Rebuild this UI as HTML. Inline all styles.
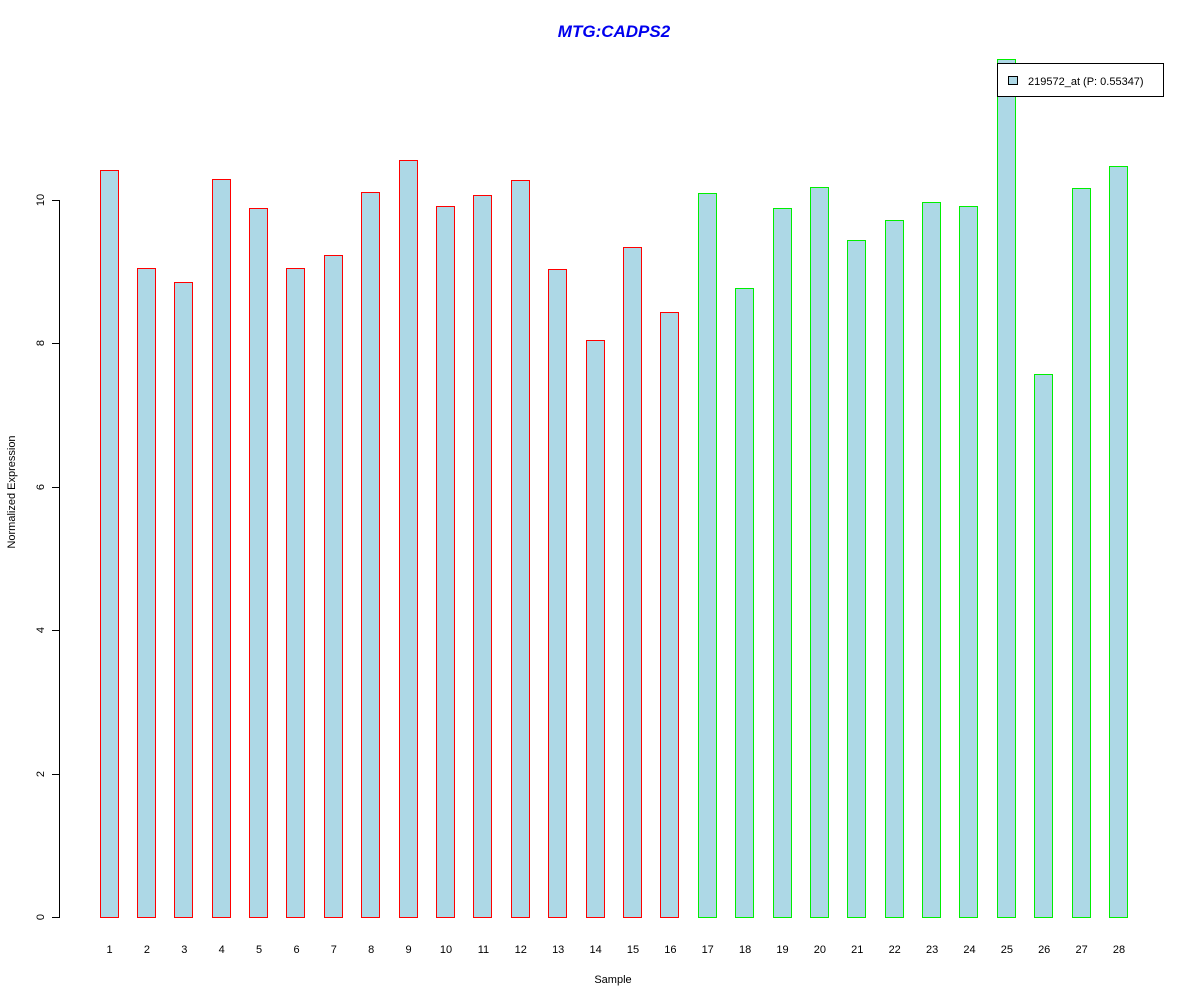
<!DOCTYPE html>
<html><head><meta charset="utf-8"><style>html,body{margin:0;padding:0;background:#fff}svg{display:block}</style></head><body>
<svg width="1200" height="1000" xmlns="http://www.w3.org/2000/svg" font-family="Liberation Sans, Arial, sans-serif">
<rect width="1200" height="1000" fill="#fff"/>
<text x="614" y="37" text-anchor="middle" font-size="17" font-weight="bold" font-style="italic" fill="#0000ee">MTG:CADPS2</text>
<g fill="#000" shape-rendering="crispEdges">
<rect x="59" y="200" width="1" height="718"/>
<rect x="52" y="917" width="8" height="1"/>
<rect x="52" y="774" width="8" height="1"/>
<rect x="52" y="630" width="8" height="1"/>
<rect x="52" y="487" width="8" height="1"/>
<rect x="52" y="343" width="8" height="1"/>
<rect x="52" y="200" width="8" height="1"/>
</g>
<g font-size="11" fill="#000" text-anchor="middle">
<text transform="translate(44,917) rotate(-90)">0</text>
<text transform="translate(44,774) rotate(-90)">2</text>
<text transform="translate(44,630) rotate(-90)">4</text>
<text transform="translate(44,487) rotate(-90)">6</text>
<text transform="translate(44,343) rotate(-90)">8</text>
<text transform="translate(44,200) rotate(-90)">10</text>
<text transform="translate(15,492) rotate(-90)">Normalized Expression</text>
<text x="613" y="983">Sample</text>
</g>
<g shape-rendering="crispEdges">
<g fill="#ff0000">
<rect x="100" y="170" width="19" height="748"/>
<rect x="137" y="268" width="19" height="650"/>
<rect x="174" y="282" width="19" height="636"/>
<rect x="212" y="179" width="19" height="739"/>
<rect x="249" y="208" width="19" height="710"/>
<rect x="286" y="268" width="19" height="650"/>
<rect x="324" y="255" width="19" height="663"/>
<rect x="361" y="192" width="19" height="726"/>
<rect x="399" y="160" width="19" height="758"/>
<rect x="436" y="206" width="19" height="712"/>
<rect x="473" y="195" width="19" height="723"/>
<rect x="511" y="180" width="19" height="738"/>
<rect x="548" y="269" width="19" height="649"/>
<rect x="586" y="340" width="19" height="578"/>
<rect x="623" y="247" width="19" height="671"/>
<rect x="660" y="312" width="19" height="606"/>
</g>
<g fill="#00ee00">
<rect x="698" y="193" width="19" height="725"/>
<rect x="735" y="288" width="19" height="630"/>
<rect x="773" y="208" width="19" height="710"/>
<rect x="810" y="187" width="19" height="731"/>
<rect x="847" y="240" width="19" height="678"/>
<rect x="885" y="220" width="19" height="698"/>
<rect x="922" y="202" width="19" height="716"/>
<rect x="959" y="206" width="19" height="712"/>
<rect x="997" y="59" width="19" height="859"/>
<rect x="1034" y="374" width="19" height="544"/>
<rect x="1072" y="188" width="19" height="730"/>
<rect x="1109" y="166" width="19" height="752"/>
</g>
<g fill="#add8e6">
<rect x="101" y="171" width="17" height="746"/>
<rect x="138" y="269" width="17" height="648"/>
<rect x="175" y="283" width="17" height="634"/>
<rect x="213" y="180" width="17" height="737"/>
<rect x="250" y="209" width="17" height="708"/>
<rect x="287" y="269" width="17" height="648"/>
<rect x="325" y="256" width="17" height="661"/>
<rect x="362" y="193" width="17" height="724"/>
<rect x="400" y="161" width="17" height="756"/>
<rect x="437" y="207" width="17" height="710"/>
<rect x="474" y="196" width="17" height="721"/>
<rect x="512" y="181" width="17" height="736"/>
<rect x="549" y="270" width="17" height="647"/>
<rect x="587" y="341" width="17" height="576"/>
<rect x="624" y="248" width="17" height="669"/>
<rect x="661" y="313" width="17" height="604"/>
<rect x="699" y="194" width="17" height="723"/>
<rect x="736" y="289" width="17" height="628"/>
<rect x="774" y="209" width="17" height="708"/>
<rect x="811" y="188" width="17" height="729"/>
<rect x="848" y="241" width="17" height="676"/>
<rect x="886" y="221" width="17" height="696"/>
<rect x="923" y="203" width="17" height="714"/>
<rect x="960" y="207" width="17" height="710"/>
<rect x="998" y="60" width="17" height="857"/>
<rect x="1035" y="375" width="17" height="542"/>
<rect x="1073" y="189" width="17" height="728"/>
<rect x="1110" y="167" width="17" height="750"/>
</g>
</g>
<g font-size="11" text-anchor="middle" fill="#000">
<text x="109.5" y="953">1</text><text x="146.9" y="953">2</text><text x="184.3" y="953">3</text><text x="221.7" y="953">4</text>
<text x="259.1" y="953">5</text><text x="296.5" y="953">6</text><text x="333.8" y="953">7</text><text x="371.2" y="953">8</text>
<text x="408.6" y="953">9</text><text x="446" y="953">10</text><text x="483.4" y="953">11</text><text x="520.8" y="953">12</text>
<text x="558.2" y="953">13</text><text x="595.6" y="953">14</text><text x="633" y="953">15</text><text x="670.4" y="953">16</text>
<text x="707.7" y="953">17</text><text x="745.1" y="953">18</text><text x="782.5" y="953">19</text><text x="819.9" y="953">20</text>
<text x="857.3" y="953">21</text><text x="894.7" y="953">22</text><text x="932.1" y="953">23</text><text x="969.5" y="953">24</text>
<text x="1006.9" y="953">25</text><text x="1044.2" y="953">26</text><text x="1081.6" y="953">27</text><text x="1119" y="953">28</text>
</g>
<rect x="997.5" y="63.5" width="166" height="33" fill="#fff" stroke="#000"/>
<rect x="1008.5" y="76.5" width="9" height="8" fill="#add8e6" stroke="#000"/>
<text x="1028" y="85" font-size="11">219572_at (P: 0.55347)</text>
</svg>
</body></html>
